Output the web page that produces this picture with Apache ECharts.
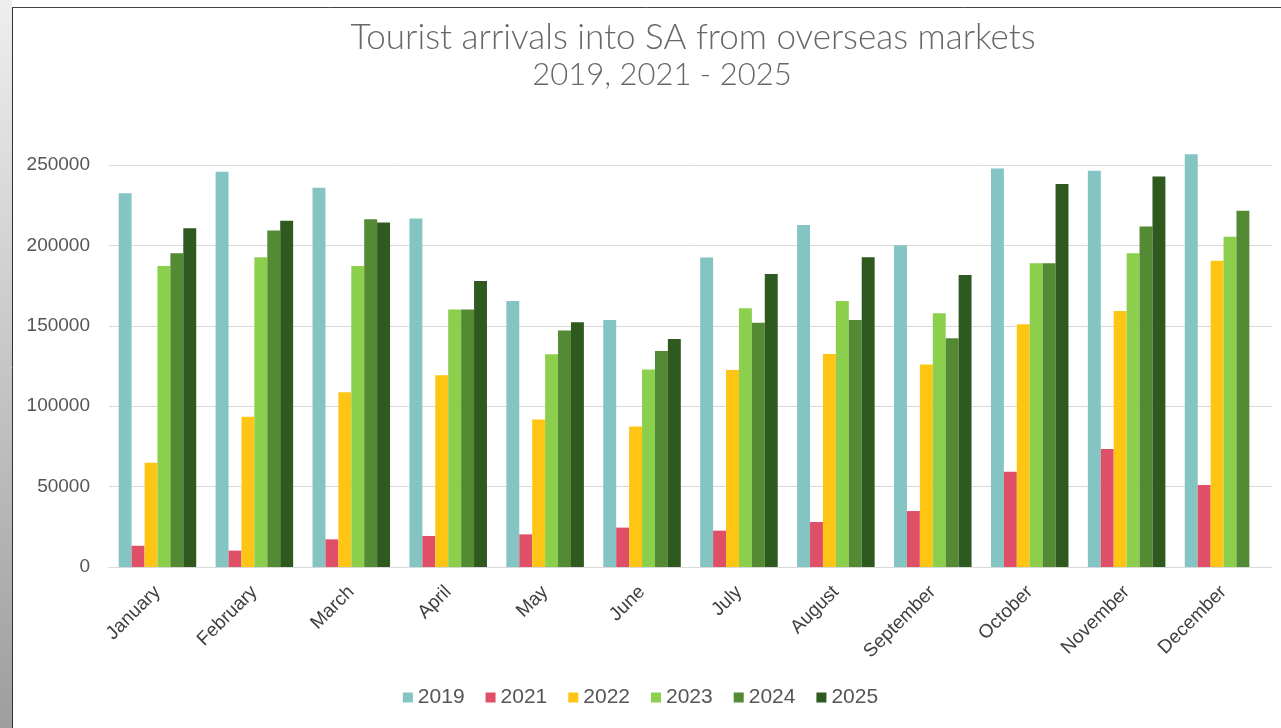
<!DOCTYPE html>
<html>
<head>
<meta charset="utf-8">
<title>Tourist arrivals into SA from overseas markets</title>
<script src="https://cdn.jsdelivr.net/npm/echarts@6/dist/echarts.min.js"></script>
<style>
  html, body { margin: 0; padding: 0; background: #ffffff; }
  #chart { width: 1281px; height: 728px; }
</style>
</head>
<body>
<div id="chart"></div>
<script>
// Months on the category axis
const months = ['January', 'February', 'March', 'April', 'May', 'June',
  'July', 'August', 'September', 'October', 'November', 'December'];

// Monthly arrivals per year
const arrivals2019 = [232400, 245800, 235900, 216800, 165400, 153600, 192400, 212700, 200100, 247900, 246500, 256700];
const arrivals2021 = [13200, 10200, 17200, 19300, 20300, 24500, 22600, 28000, 34800, 59300, 73400, 51000];
const arrivals2022 = [64900, 93500, 108600, 119200, 91800, 87300, 122500, 132500, 126000, 150900, 159200, 190500];
const arrivals2023 = [187200, 192600, 187200, 160200, 132300, 122900, 160900, 165400, 157800, 188900, 195100, 205400];
const arrivals2024 = [195100, 209200, 216200, 160200, 147000, 134300, 151900, 153600, 142200, 188900, 211700, 221600];
const arrivals2025 = [210600, 215400, 214300, 177900, 152200, 141800, 182200, 192600, 181600, 238200, 242800, null];

const yearNames = ['2019', '2021', '2022', '2023', '2024', '2025'];
const yearColors = ['#84c4c2', '#df5068', '#ffc514', '#8bcf4c', '#538a33', '#2f5a1f'];
const yearValues = [arrivals2019, arrivals2021, arrivals2022, arrivals2023, arrivals2024, arrivals2025];

const chart = echarts.init(document.getElementById('chart'), null, { renderer: 'canvas' });

const labelFont = '"Liberation Sans", Arial, sans-serif';

chart.setOption({
  backgroundColor: '#ffffff',
  animation: false,
  title: [
    {
      text: 'Tourist arrivals into SA from overseas markets',
      left: 688, top: 15, textAlign: 'center',
      textStyle: { fontFamily: 'Lato', fontWeight: 300, fontSize: 35, color: '#676767' }
    },
    {
      text: '2019, 2021 - 2025',
      left: 657, top: 54, textAlign: 'center',
      textStyle: { fontFamily: 'Lato', fontWeight: 300, fontSize: 31, color: '#676767' }
    }
  ],
  graphic: [
    // slide frame: shaded strip on the left and thin dark border lines
    {
      type: 'rect', left: 0, top: 0, z: 0,
      shape: { width: 12, height: 728 },
      style: {
        fill: new echarts.graphic.LinearGradient(0, 0, 0, 1, [
          { offset: 0, color: '#eeeeee' },
          { offset: 1, color: '#9e9e9e' }
        ])
      }
    },
    {
      type: 'line', z: 10,
      shape: { x1: 12.5, y1: 7, x2: 12.5, y2: 728 },
      style: { stroke: '#333333', lineWidth: 1 }
    },
    {
      type: 'line', z: 10,
      shape: { x1: 12, y1: 7.5, x2: 1281, y2: 7.5 },
      style: { stroke: '#444444', lineWidth: 1 }
    }
  ],
  legend: {
    bottom: 15,
    left: 'center',
    icon: 'rect',
    itemWidth: 10,
    itemHeight: 10,
    itemGap: 21,
    textStyle: { fontFamily: labelFont, fontSize: 21, color: '#555555' },
    data: yearNames
  },
  grid: { left: 109, right: 9, top: 165, bottom: 161, containLabel: false },
  xAxis: {
    type: 'category',
    data: months,
    axisLine: { lineStyle: { color: '#d9d9d9' } },
    axisTick: { show: false },
    axisLabel: {
      rotate: 45,
      interval: 0,
      margin: 22,
      fontFamily: labelFont,
      fontSize: 19,
      color: '#404040'
    }
  },
  yAxis: {
    type: 'value',
    min: 0,
    max: 250000,
    interval: 50000,
    axisLine: { show: false },
    axisTick: { show: false },
    splitLine: { lineStyle: { color: '#d9d9d9' } },
    axisLabel: {
      margin: 19, fontFamily: labelFont, fontSize: 19, color: '#555555',
      formatter: v => String(v)
    }
  },
  series: yearNames.map((name, i) => ({
    name: name,
    type: 'bar',
    data: yearValues[i],
    clip: false,
    barGap: '0%',
    barCategoryGap: '20%',
    itemStyle: { color: yearColors[i] }
  }))
});
</script>
</body>
</html>
